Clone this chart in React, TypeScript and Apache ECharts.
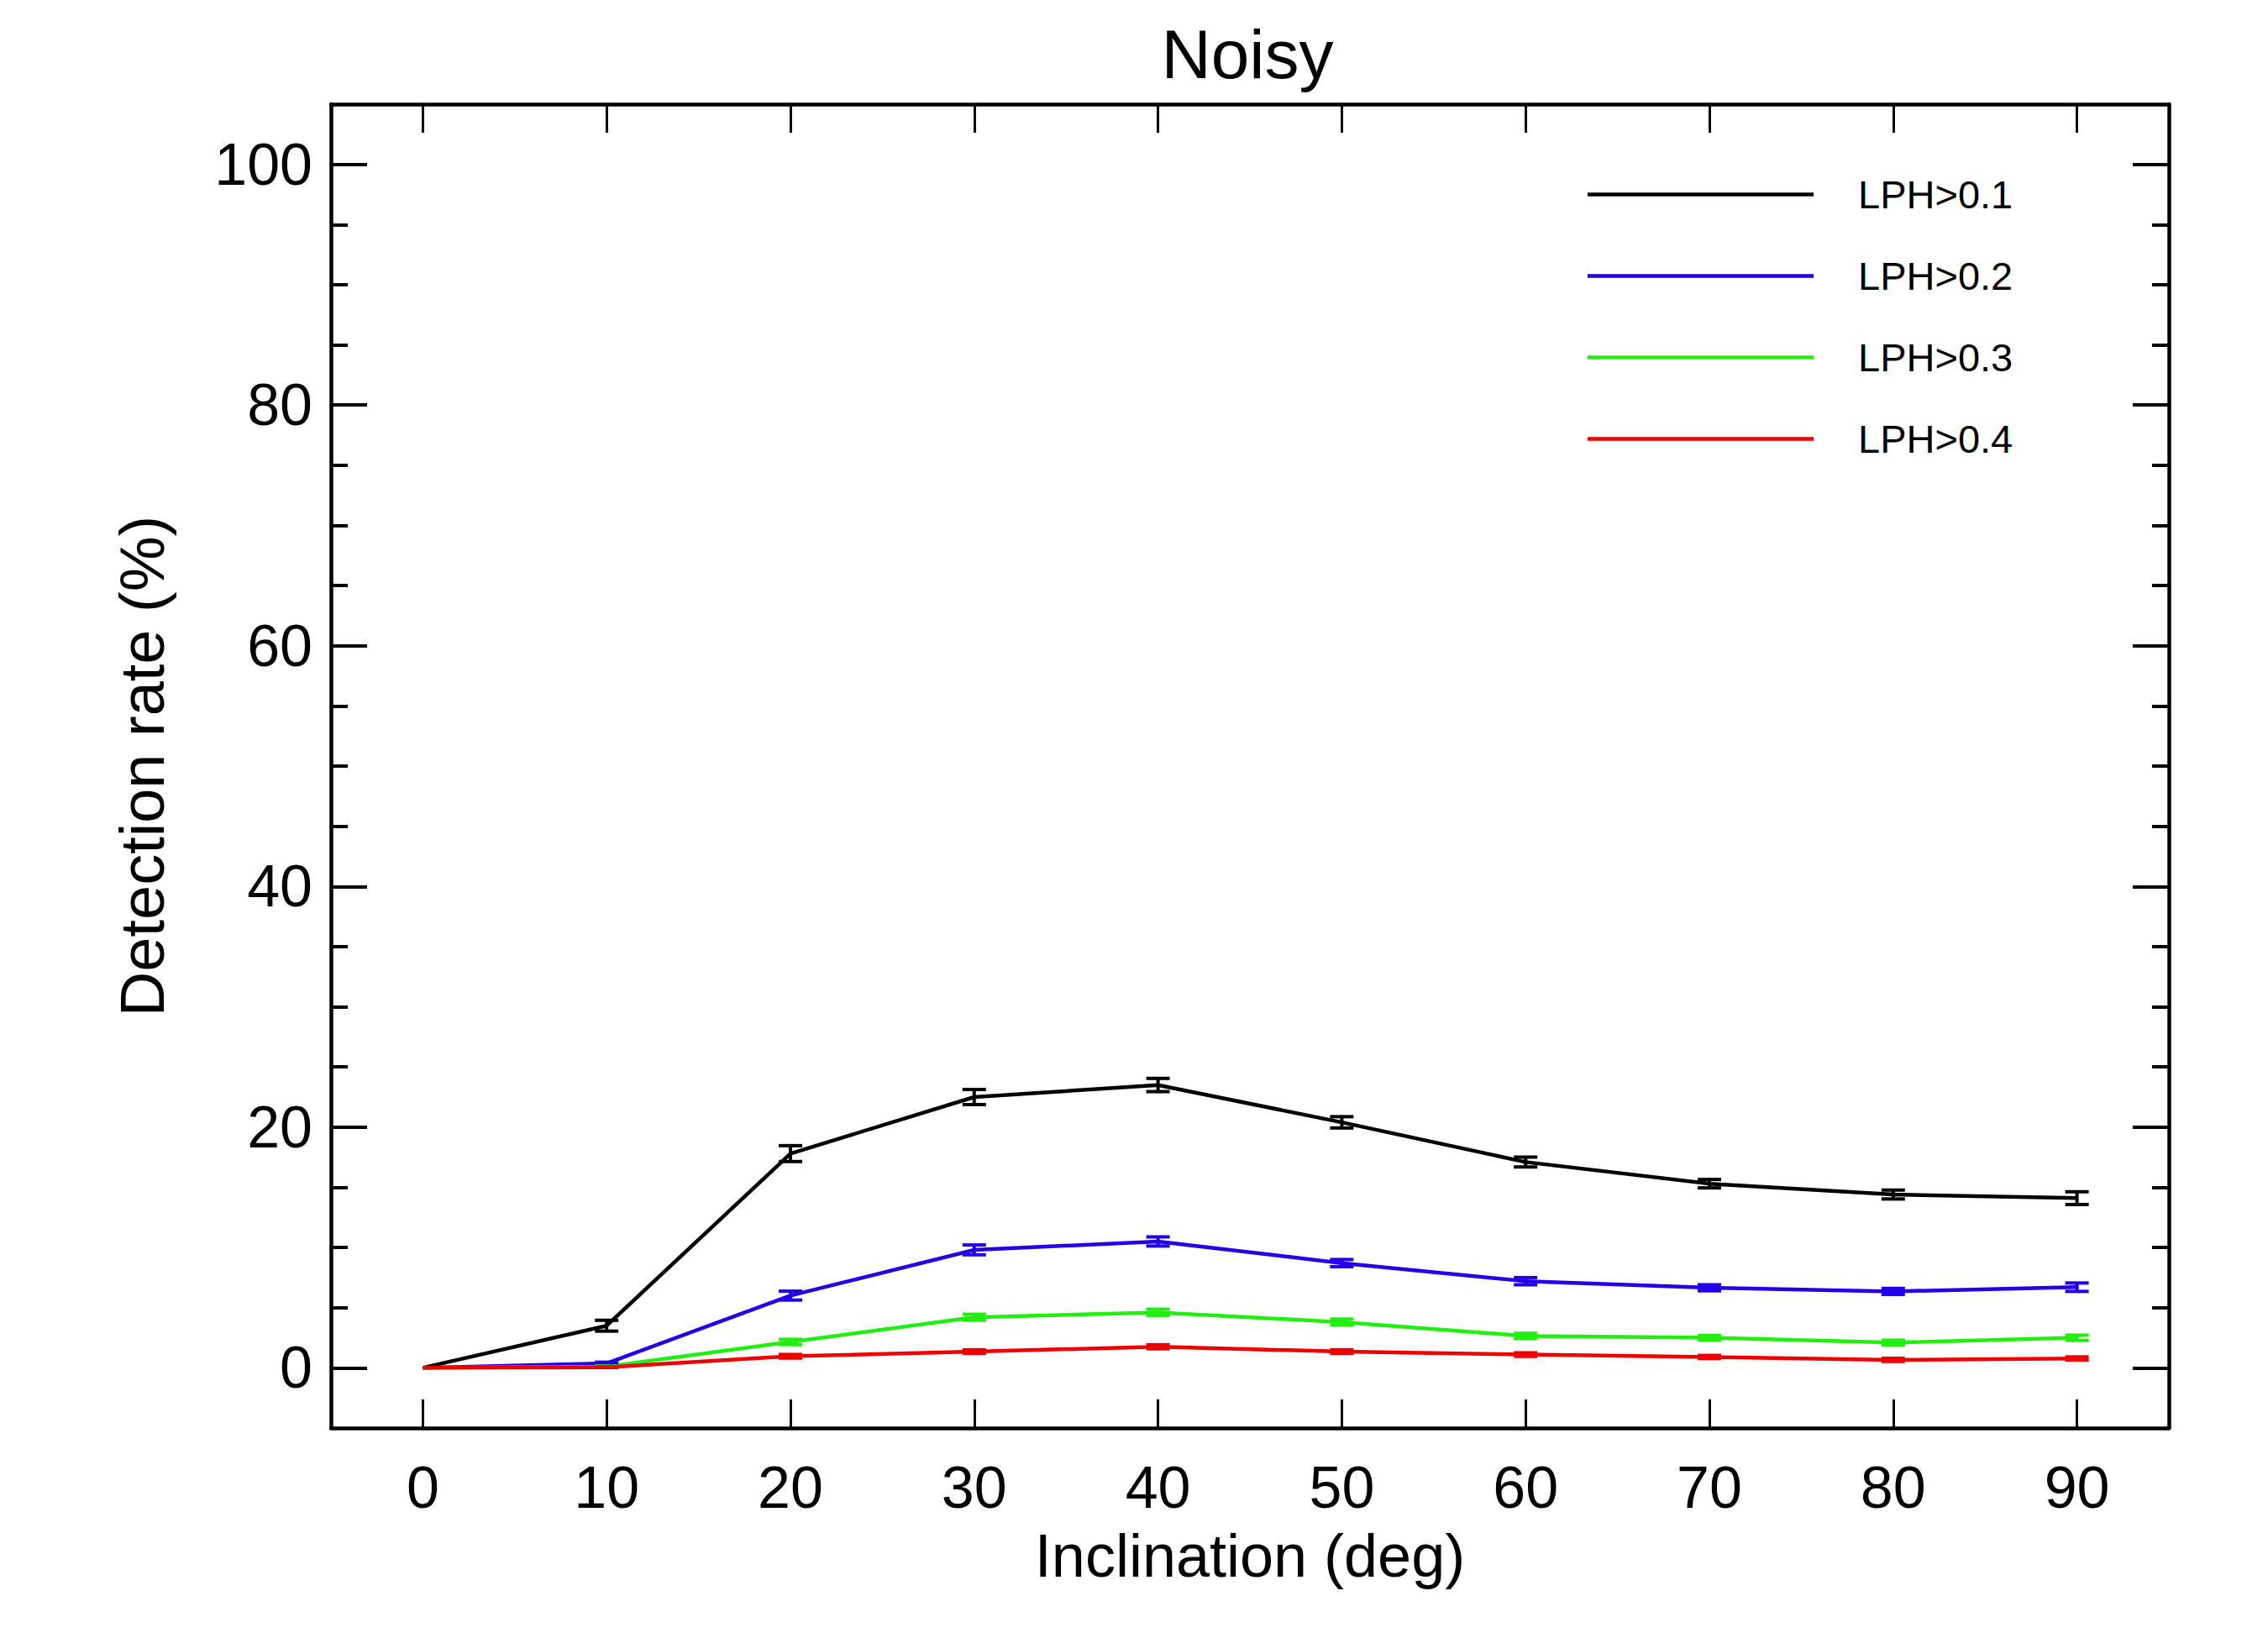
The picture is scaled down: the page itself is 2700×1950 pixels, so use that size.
import React, { useEffect, useRef } from "react";
import * as echarts from "echarts";

const inclination = [0, 10, 20, 30, 40, 50, 60, 70, 80, 90];
const xTickValues = [0, 10, 20, 30, 40, 50, 60, 70, 80, 90];
const yMajorValues = [0, 20, 40, 60, 80, 100];
const yMinorValues = [0, 5, 10, 15, 20, 25, 30, 35, 40, 45, 50, 55, 60, 65, 70, 75, 80, 85, 90, 95, 100];

const seriesNames = ["LPH>0.1", "LPH>0.2", "LPH>0.3", "LPH>0.4"];
const seriesColors = ["#000000", "#2200e6", "#22ee11", "#ee0000"];

const lph1 = [0, 3.5, 17.8, 22.5, 23.5, 20.4, 17.1, 15.3, 14.4, 14.1];
const lph1Err = [0, 0.45, 0.66, 0.63, 0.55, 0.47, 0.41, 0.35, 0.37, 0.53];
const lph2 = [0, 0.37, 6.0, 9.8, 10.5, 8.7, 7.2, 6.65, 6.35, 6.7];
const lph2Err = [0, 0.1, 0.37, 0.41, 0.38, 0.3, 0.3, 0.25, 0.25, 0.35];
const lph3 = [0, 0.1, 2.15, 4.2, 4.6, 3.8, 2.65, 2.5, 2.1, 2.5];
const lph3Err = [0, 0.05, 0.22, 0.25, 0.27, 0.25, 0.22, 0.2, 0.2, 0.22];
const lph4 = [0, 0.05, 0.96, 1.35, 1.75, 1.35, 1.1, 0.9, 0.66, 0.78];
const lph4Err = [0, 0.03, 0.15, 0.15, 0.17, 0.15, 0.15, 0.13, 0.13, 0.13];

const values = [lph1, lph2, lph3, lph4];
const errors = [lph1Err, lph2Err, lph3Err, lph4Err];

const FONT = "Liberation Sans";

export default function App() {
  const ref = useRef<HTMLDivElement>(null);

  useEffect(() => {
    document.body.style.margin = "0";
    document.body.style.overflow = "hidden";
    if (!ref.current) return;
    const chart = echarts.init(ref.current, undefined, { renderer: "svg" });

    const yCommon = {
      type: "value",
      min: -5,
      max: 105,
      splitLine: { show: false },
    };

    const lineSeries = seriesNames.map((name, i) => ({
      name,
      type: "line",
      xAxisIndex: 0,
      yAxisIndex: 0,
      data: inclination.map((x, j) => [x, values[i][j]]),
      symbol: "none",
      showSymbol: false,
      lineStyle: { color: seriesColors[i], width: 4.5 },
      itemStyle: { color: seriesColors[i] },
      z: 3,
    }));

    const errSeries = seriesNames.map((name, i) => ({
      name: name + " error",
      type: "custom",
      xAxisIndex: 0,
      yAxisIndex: 0,
      data: inclination.map((x, j) => [x, values[i][j], errors[i][j]]),
      z: 4,
      renderItem: (params: any, api: any) => {
        const x = api.value(0);
        const y = api.value(1);
        const e = api.value(2);
        if (!e) return null;
        const top = api.coord([x, y + e]);
        const bot = api.coord([x, y - e]);
        const hw = 14;
        const style = { stroke: seriesColors[i], lineWidth: 4 };
        return {
          type: "group",
          children: [
            { type: "line", shape: { x1: top[0], y1: top[1], x2: bot[0], y2: bot[1] }, style },
            { type: "line", shape: { x1: top[0] - hw, y1: top[1], x2: top[0] + hw, y2: top[1] }, style },
            { type: "line", shape: { x1: bot[0] - hw, y1: bot[1], x2: bot[0] + hw, y2: bot[1] }, style },
          ],
        };
      },
    }));

    chart.setOption({
      animation: false,
      backgroundColor: "#ffffff",
      title: {
        text: "Noisy",
        left: 1480,
        top: 18,
        textAlign: "center",
        textStyle: { fontFamily: FONT, fontSize: 82, fontWeight: "normal", color: "#000" },
      },
      legend: {
        data: seriesNames.map((name) => ({ name, icon: "rect" })),
        orient: "vertical",
        left: 1885,
        top: 203,
        itemWidth: 269,
        itemHeight: 4.5,
        itemGap: 50,
        textStyle: { fontFamily: FONT, fontSize: 47, color: "#000", padding: [0, 0, 0, 48] },
      },
      grid: { left: 394, top: 124, width: 2188, height: 1576, containLabel: false },
      xAxis: [
        {
          type: "value",
          position: "bottom",
          min: -5,
          max: 95,
          name: "Inclination (deg)",
          nameLocation: "middle",
          nameGap: 116,
          nameTextStyle: { fontFamily: FONT, fontSize: 72, color: "#000" },
          axisLine: { show: true, onZero: false, lineStyle: { color: "#000", width: 4.5 } },
          axisTick: { show: true, inside: true, length: 34, customValues: xTickValues, lineStyle: { color: "#000", width: 3 } },
          axisLabel: { show: true, customValues: xTickValues, margin: 36, fontFamily: FONT, fontSize: 70, color: "#000" },
          splitLine: { show: false },
        },
        {
          type: "value",
          position: "top",
          min: -5,
          max: 95,
          axisLine: { show: true, onZero: false, lineStyle: { color: "#000", width: 4.5 } },
          axisTick: { show: true, inside: true, length: 34, customValues: xTickValues, lineStyle: { color: "#000", width: 3 } },
          axisLabel: { show: false },
          splitLine: { show: false },
        },
      ],
      yAxis: [
        {
          ...yCommon,
          position: "left",
          name: "Detection rate (%)",
          nameLocation: "middle",
          nameGap: 188,
          nameRotate: 90,
          nameTextStyle: { fontFamily: FONT, fontSize: 74, color: "#000" },
          axisLine: { show: true, onZero: false, lineStyle: { color: "#000", width: 4.5 } },
          axisTick: { show: true, inside: true, length: 43, customValues: yMajorValues, lineStyle: { color: "#000", width: 4 } },
          axisLabel: { show: true, customValues: yMajorValues, margin: 22, fontFamily: FONT, fontSize: 70, color: "#000" },
        },
        {
          ...yCommon,
          position: "left",
          axisLine: { show: false, onZero: false },
          axisTick: { show: true, inside: true, length: 20, customValues: yMinorValues, lineStyle: { color: "#000", width: 4 } },
          axisLabel: { show: false },
        },
        {
          ...yCommon,
          position: "right",
          axisLine: { show: true, onZero: false, lineStyle: { color: "#000", width: 4.5 } },
          axisTick: { show: true, inside: true, length: 43, customValues: yMajorValues, lineStyle: { color: "#000", width: 4 } },
          axisLabel: { show: false },
        },
        {
          ...yCommon,
          position: "right",
          axisLine: { show: false, onZero: false },
          axisTick: { show: true, inside: true, length: 20, customValues: yMinorValues, lineStyle: { color: "#000", width: 4 } },
          axisLabel: { show: false },
        },
      ],
      series: [...lineSeries, ...errSeries],
    });

    return () => chart.dispose();
  }, []);

  return <div ref={ref} style={{ width: 2700, height: 1950 }} />;
}
